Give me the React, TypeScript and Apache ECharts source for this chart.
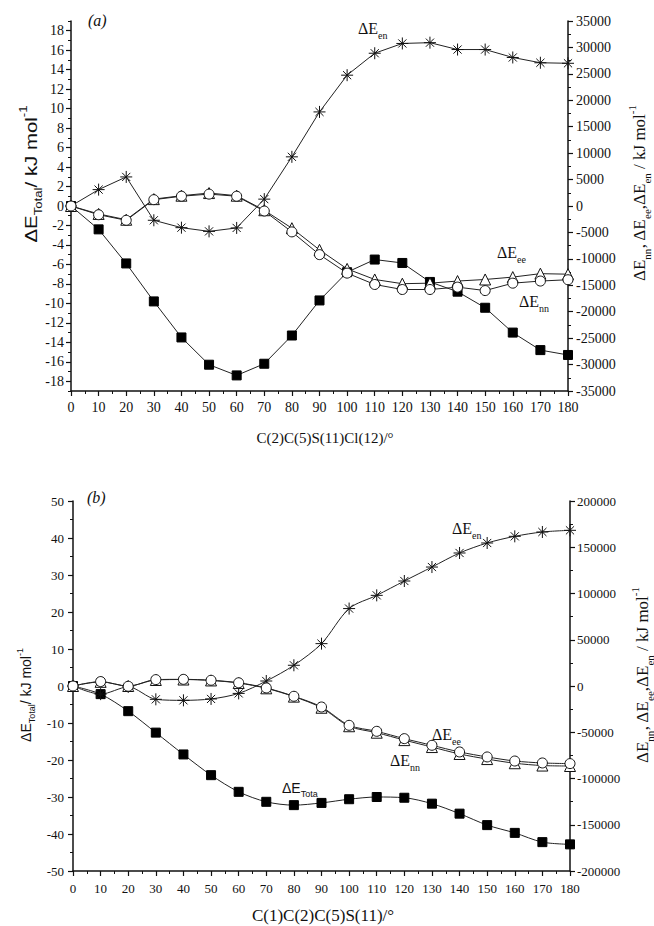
import React, { useEffect, useRef } from 'react';
import * as echarts from 'echarts';

// Torsion angles (degrees)
const angles = [0, 10, 20, 30, 40, 50, 60, 70, 80, 90, 100, 110, 120, 130, 140, 150, 160, 170, 180];

// Panel (a): C(2)C(5)S(11)Cl(12)
const aTotal = [0, -2.4, -5.9, -9.8, -13.5, -16.3, -17.4, -16.2, -13.3, -9.7, -6.8, -5.5, -5.85, -7.8, -8.8, -10.45, -13.0, -14.8, -15.3];
const aEn = [0, 3100, 5500, -2700, -4100, -4800, -4150, 1300, 9300, 17800, 24750, 28900, 30750, 30900, 29600, 29600, 28100, 27100, 27000];
const aEe = [0, -1500, -2600, 1300, 1950, 2450, 1950, -800, -4200, -8300, -11900, -13900, -14700, -14600, -14200, -13900, -13450, -12800, -12900];
const aNn = [0, -1650, -2700, 1200, 1850, 2250, 1850, -950, -4900, -9200, -12700, -14850, -15800, -15800, -15350, -16000, -14600, -14200, -13950];

// Panel (b): C(1)C(2)C(5)S(11)
const bTotal = [0, -2.2, -6.8, -12.6, -18.5, -24.1, -28.6, -31.3, -32.2, -31.6, -30.6, -30.0, -30.2, -31.8, -34.5, -37.6, -39.7, -42.2, -42.8];
const bEn = [0, -8800, -1000, -14400, -15500, -14000, -8000, 5400, 22400, 45800, 83700, 98000, 113500, 128600, 143800, 154600, 161800, 166500, 168300];
const bEe = [0, 4500, 0, 6500, 7000, 6000, 3200, -2500, -11500, -23500, -43500, -50500, -58500, -66000, -73500, -79000, -83500, -86000, -86500];
const bNn = [0, 4800, -300, 6900, 7200, 6200, 3500, -2100, -11100, -22700, -42500, -49000, -56900, -64100, -71300, -76700, -81100, -83200, -83900];

// Tick values
const aLeftMajor = [-18, -16, -14, -12, -10, -8, -6, -4, -2, 0, 2, 4, 6, 8, 10, 12, 14, 16, 18];

const serif = '"Liberation Serif", "Times New Roman", serif';
const sans = '"Liberation Sans", Arial, sans-serif';
const ink = '#111';

const pair = (ys: number[]) => angles.map((a, i) => [a, ys[i]]);

const starPath = 'path://M5 0 L5 10 M0 5 L10 5 M1.6 1.6 L8.4 8.4 M1.6 8.4 L8.4 1.6';

function richStyles(family: string, size: number) {
  const lh = Math.round(size * 1.5);
  return {
    m: { fontFamily: family, fontSize: size, lineHeight: lh, verticalAlign: 'middle', fill: ink },
    s: { fontFamily: family, fontSize: Math.round(size * 0.62), lineHeight: lh, verticalAlign: 'bottom', fill: ink },
    p: { fontFamily: family, fontSize: Math.round(size * 0.62), lineHeight: lh, verticalAlign: 'top', fill: ink },
  };
}

function txt(text: string, x: number, y: number, family: string, size: number, opts: any = {}) {
  return {
    type: 'text',
    x,
    y,
    rotation: opts.rotation || 0,
    scaleX: opts.scaleX || 1,
    scaleY: opts.scaleY || 1,
    style: {
      text,
      rich: richStyles(family, size),
      fontFamily: family,
      fontSize: size,
      fontStyle: opts.italic ? 'italic' : 'normal',
      fill: ink,
      align: opts.align || 'left',
      verticalAlign: 'middle',
    },
  };
}

function App() {
  const ref = useRef<HTMLDivElement>(null);
  useEffect(() => {
    const chart = echarts.init(ref.current!, null, { renderer: 'svg' });
    const axisLine = { show: true, onZero: false, lineStyle: { color: ink, width: 1.5 } };
    const major = { show: true, inside: false, length: 5, lineStyle: { color: ink, width: 1.2 } };
    const minor = { show: true, splitNumber: 2, length: 3, lineStyle: { color: ink, width: 1 } };
    const lab = (margin: number, size: number) => ({
      fontFamily: serif,
      fontSize: size,
      color: ink,
      margin,
      formatter: (v: number) => String(v),
    });
    const lineBase = { lineStyle: { color: '#222', width: 1 }, z: 2 };
    const sqr = { symbol: 'rect', symbolSize: 9, itemStyle: { color: '#000', borderColor: '#000' } };
    const circ = { symbol: 'circle', symbolSize: 10, itemStyle: { color: '#fff', borderColor: '#111', borderWidth: 1 } };
    const tri = { symbol: 'triangle', symbolSize: 11, itemStyle: { color: '#fff', borderColor: '#111', borderWidth: 1 } };
    const star = { symbol: starPath, symbolSize: 12, itemStyle: { color: 'transparent', borderColor: '#111', borderWidth: 1 } };

    const option: any = {
      animation: false,
      backgroundColor: '#fff',
      grid: [
        { left: 71, top: 21, width: 497, height: 370 },
        { left: 73, top: 501, width: 497, height: 370 },
      ],
      xAxis: [0, 1].map((g) => ({
        gridIndex: g,
        type: 'value',
        min: 0,
        max: 180,
        interval: 10,
        axisLine,
        axisTick: major,
        minorTick: minor,
        axisLabel: lab(g === 0 ? 9 : 11, g === 0 ? 14 : 13),
        splitLine: { show: false },
        minorSplitLine: { show: false },
      })),
      yAxis: [
        {
          gridIndex: 0,
          type: 'value',
          position: 'left',
          min: -19,
          max: 19,
          axisLine,
          axisTick: { ...major, customValues: aLeftMajor },
          axisLabel: { ...lab(7, 14), customValues: aLeftMajor },
          splitLine: { show: false },
        },
        {
          gridIndex: 0,
          type: 'value',
          position: 'left',
          min: -19,
          max: 19,
          interval: 1,
          axisLine: { show: false, onZero: false },
          axisTick: { show: true, length: 3, lineStyle: { color: ink, width: 1 } },
          axisLabel: { show: false },
          splitLine: { show: false },
        },
        {
          gridIndex: 0,
          type: 'value',
          position: 'right',
          min: -35000,
          max: 35000,
          interval: 5000,
          axisLine,
          axisTick: major,
          minorTick: minor,
          axisLabel: lab(8, 14),
          splitLine: { show: false },
          minorSplitLine: { show: false },
        },
        {
          gridIndex: 1,
          type: 'value',
          position: 'left',
          min: -50,
          max: 50,
          interval: 10,
          axisLine,
          axisTick: major,
          minorTick: minor,
          axisLabel: lab(9, 13),
          splitLine: { show: false },
          minorSplitLine: { show: false },
        },
        {
          gridIndex: 1,
          type: 'value',
          position: 'right',
          min: -200000,
          max: 200000,
          interval: 50000,
          axisLine,
          axisTick: major,
          minorTick: minor,
          axisLabel: lab(7, 13),
          splitLine: { show: false },
          minorSplitLine: { show: false },
        },
      ],
      series: [
        { name: 'a-total', type: 'line', xAxisIndex: 0, yAxisIndex: 0, data: pair(aTotal), ...lineBase, ...sqr },
        { name: 'a-en', type: 'line', xAxisIndex: 0, yAxisIndex: 2, data: pair(aEn), ...lineBase, ...star },
        { name: 'a-ee', type: 'line', xAxisIndex: 0, yAxisIndex: 2, data: pair(aEe), ...lineBase, ...tri },
        { name: 'a-nn', type: 'line', xAxisIndex: 0, yAxisIndex: 2, data: pair(aNn), ...lineBase, ...circ },
        { name: 'b-total', type: 'line', xAxisIndex: 1, yAxisIndex: 3, smooth: 0.3, data: pair(bTotal), ...lineBase, ...sqr },
        { name: 'b-en', type: 'line', xAxisIndex: 1, yAxisIndex: 4, smooth: 0.3, data: pair(bEn), ...lineBase, ...star },
        { name: 'b-ee', type: 'line', xAxisIndex: 1, yAxisIndex: 4, smooth: 0.3, data: pair(bEe), ...lineBase, ...tri },
        { name: 'b-nn', type: 'line', xAxisIndex: 1, yAxisIndex: 4, smooth: 0.3, data: pair(bNn), ...lineBase, ...circ },
      ],
      graphic: {
        elements: [
          txt('(a)', 88, 20, serif, 16, { italic: true }),
          txt('(b)', 87, 497, serif, 16, { italic: true }),
          txt('{m|ΔE}{s|Total}{m|/ kJ mol}{p|-1}', 31, 174, sans, 17, { rotation: Math.PI / 2, align: 'center', scaleX: 1.2 }),
          txt('{m|ΔE}{s|nn}{m|, ΔE}{s|ee}{m|,ΔE}{s|en}{m| / kJ mol}{p|-1}', 639, 193, serif, 17, { rotation: Math.PI / 2, align: 'center' }),
          txt('C(2)C(5)S(11)Cl(12)/°', 325, 438, serif, 15, { align: 'center' }),
          txt('{m|ΔE}{s|en}', 358, 28, serif, 16),
          txt('{m|ΔE}{s|ee}', 497, 252, serif, 16),
          txt('{m|ΔE}{s|nn}', 519, 301, serif, 16),
          txt('{m|ΔE}{s|Total}{m|/ kJ mol}{p|-1}', 26, 695, sans, 14, { rotation: Math.PI / 2, align: 'center' }),
          txt('{m|ΔE}{s|nn}{m|, ΔE}{s|ee}{m|,ΔE}{s|en}{m| / kJ mol}{p|-1}', 642, 675, serif, 17, { rotation: Math.PI / 2, align: 'center' }),
          txt('C(1)C(2)C(5)S(11)/°', 323, 915, serif, 17, { align: 'center' }),
          txt('{m|ΔE}{s|en}', 452, 528, serif, 16),
          txt('{m|ΔE}{s|ee}', 432, 734, serif, 16),
          txt('{m|ΔE}{s|nn}', 390, 760, serif, 16),
          txt('{m|ΔE}{s|Tota}', 282, 788, sans, 14),
        ],
      },
    };
    chart.setOption(option);
    return () => chart.dispose();
  }, []);
  return (
    <div
      ref={ref}
      style={{ position: 'absolute', left: 0, top: 0, width: 654, height: 926, background: '#fff' }}
    />
  );
}

export default App;
